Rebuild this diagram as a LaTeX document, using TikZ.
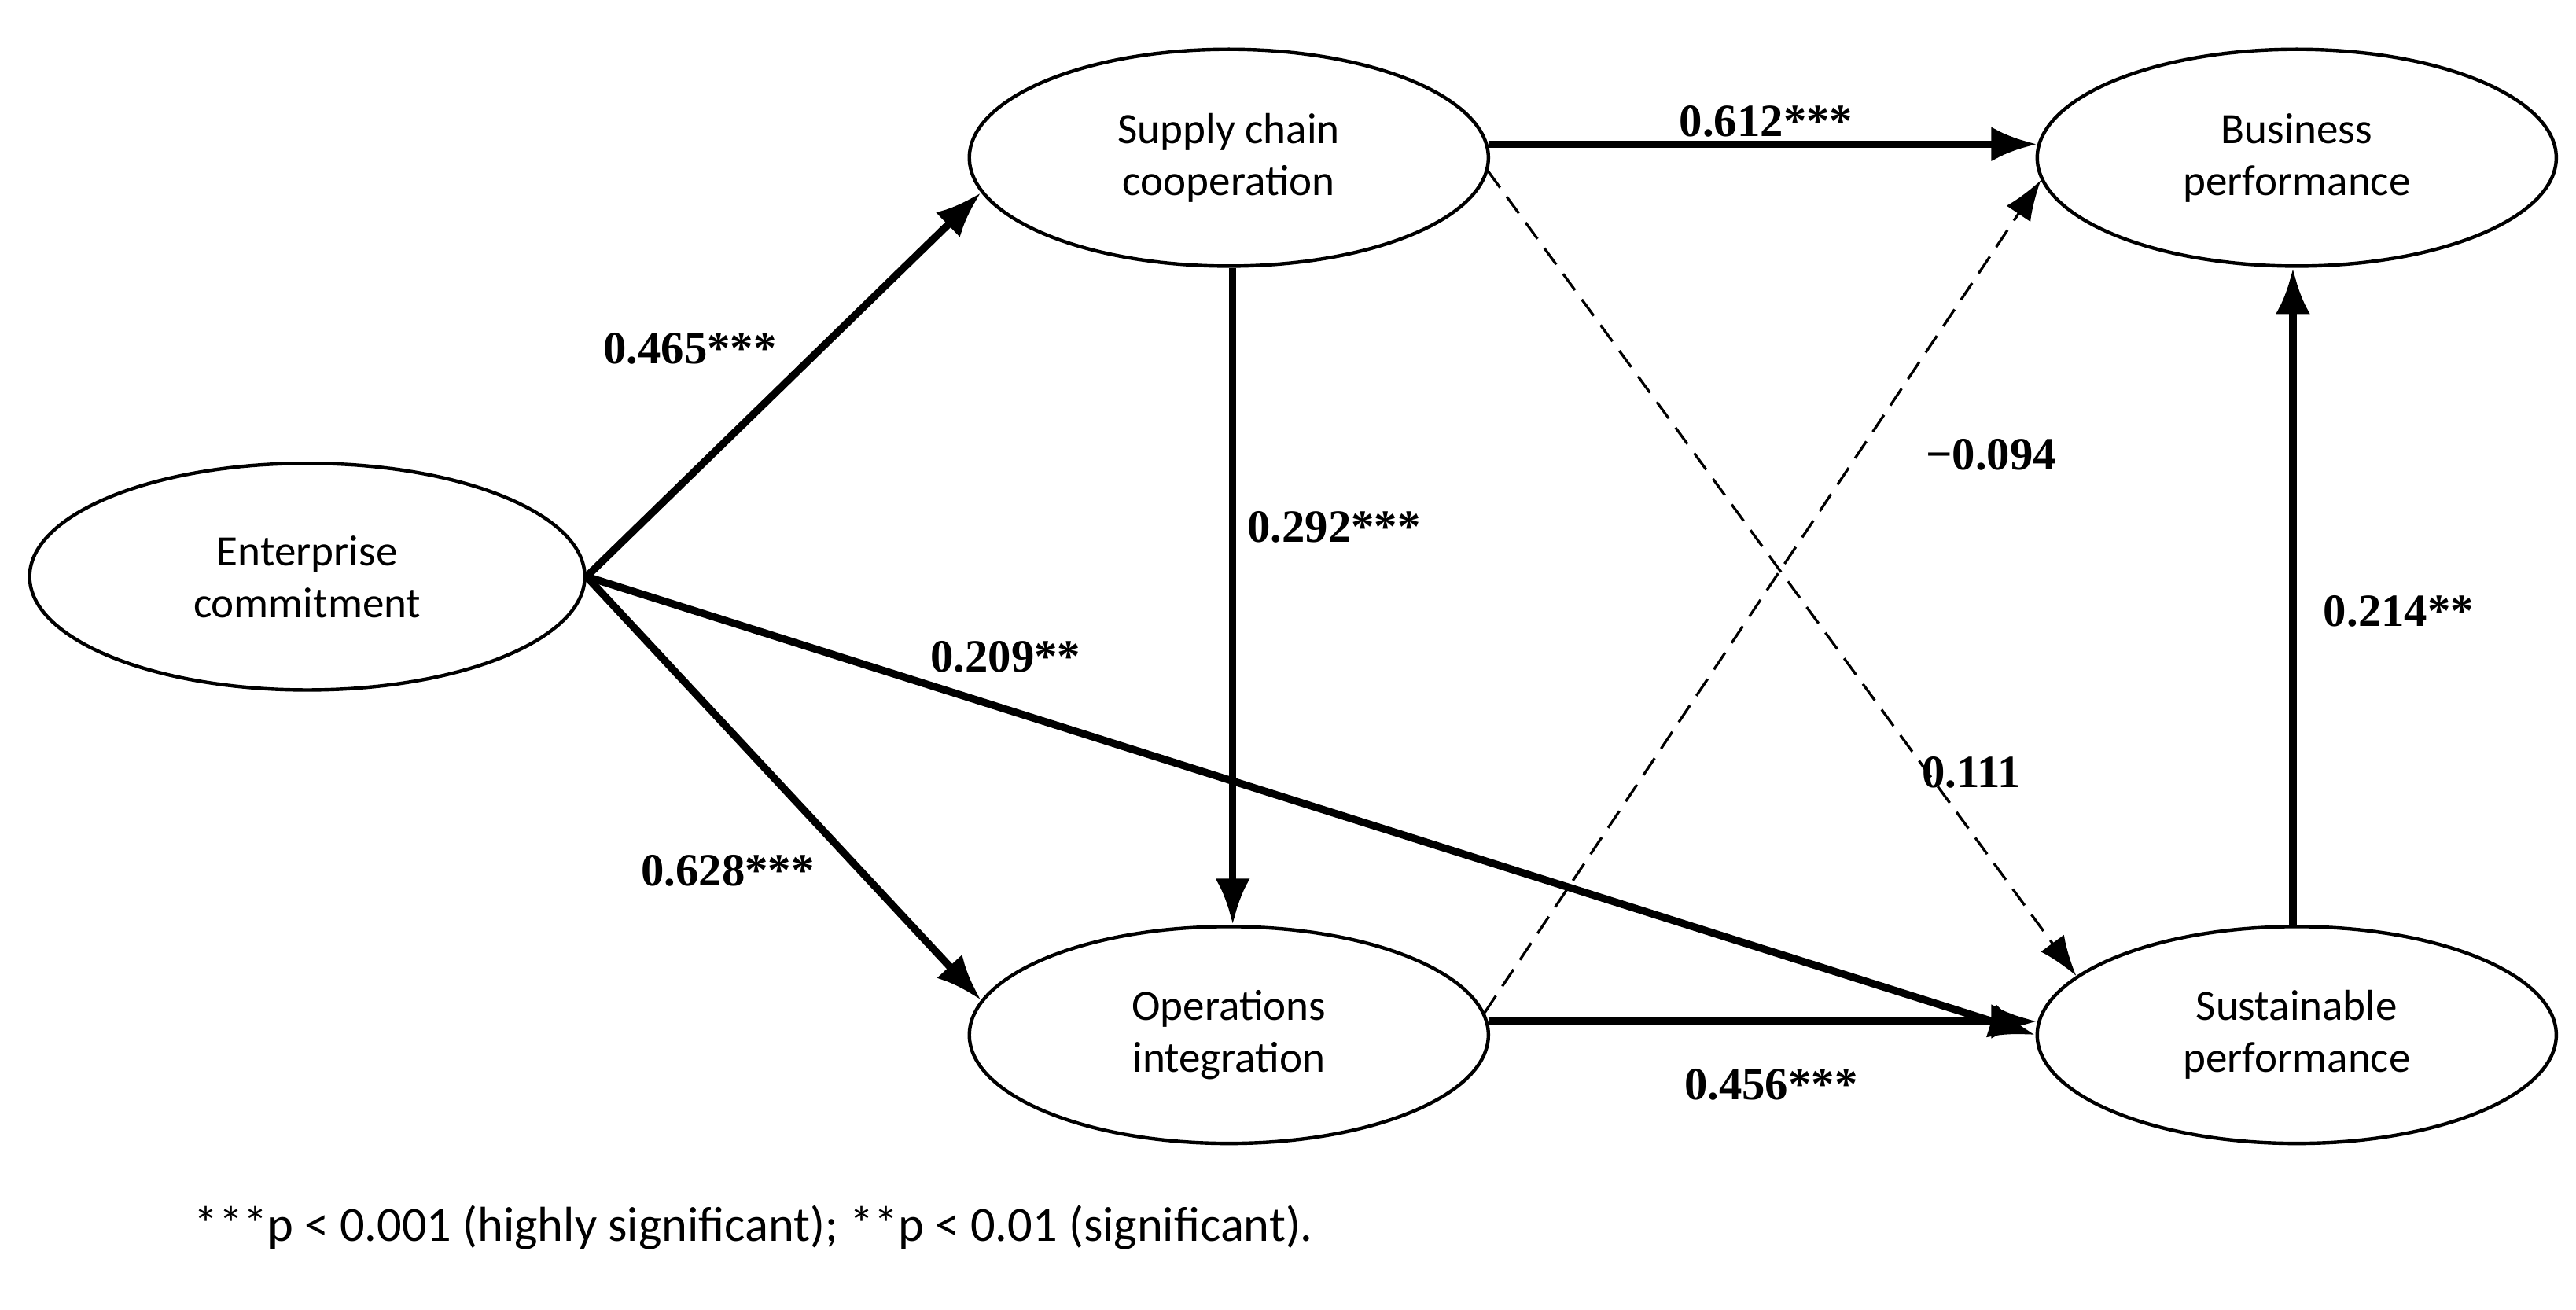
\documentclass[tikz,border=0pt]{standalone}
\usepackage{fontspec}
\setmainfont{Carlito}
\newfontfamily\tnr{Liberation Serif}
\usetikzlibrary{shapes.geometric,arrows.meta}
\begin{document}
\begin{tikzpicture}[x=0.02cm,y=-0.02cm,
  ell/.style={ellipse,draw,line width=1.2pt,minimum width=6.32cm,minimum height=2.64cm,inner sep=0pt,align=center,font=\fontsize{15}{18}\selectfont},
  strong/.style={line width=2.6pt,-{Latex[length=16pt,width=12pt]}},
  weak/.style={line width=0.9pt,dashed,dash pattern=on 7pt off 4pt,-{Latex[length=14pt,width=10pt]}},
  lab/.style={font=\tnr\bfseries\fontsize{16}{19}\selectfont}]
\useasboundingbox (0,0) rectangle (1568,797);
\node[ell,minimum width=6.76cm,minimum height=2.76cm] (ec) at (187,351) {Enterprise\\commitment};
\node[ell] (scc) at (748,96) {Supply chain\\cooperation};
\node[ell] (bp) at (1398,96) {Business\\performance};
\node[ell] (oi) at (748,630) {Operations\\integration};
\node[ell] (sp) at (1398,630) {Sustainable\\performance};
\draw[strong] (ec.east) -- (scc.188);
\draw[strong] (ec.east) -- (oi.172);
\draw[strong] (ec.east) -- (sp.180);
\draw[strong] (scc.272) -- (oi.88);
\draw[strong] (scc.3) -- (bp.177);
\draw[strong] (oi.3) -- (sp.177);
\draw[strong] (sp.92) -- (bp.268);
\draw[weak] (scc.-3) -- (sp.165);
\draw[weak] (oi.5) -- (bp.185);
\node[lab] at (420,212) {0.465***};
\node[lab] at (443,530) {0.628***};
\node[lab] at (612,400) {0.209**};
\node[lab] at (812,321) {0.292***};
\node[lab] at (1075,74) {0.612***};
\node[lab] at (1078,660) {0.456***};
\node[lab] at (1212,277) {\textminus0.094};
\node[lab] at (1200,470) {0.111};
\node[lab] at (1460,372) {0.214**};
\node[anchor=west,font=\fontsize{17}{20}\selectfont] (fn) at (112,747) {***p < 0.001 (highly significant); **p < 0.01 (significant).};
\end{tikzpicture}
\end{document}
